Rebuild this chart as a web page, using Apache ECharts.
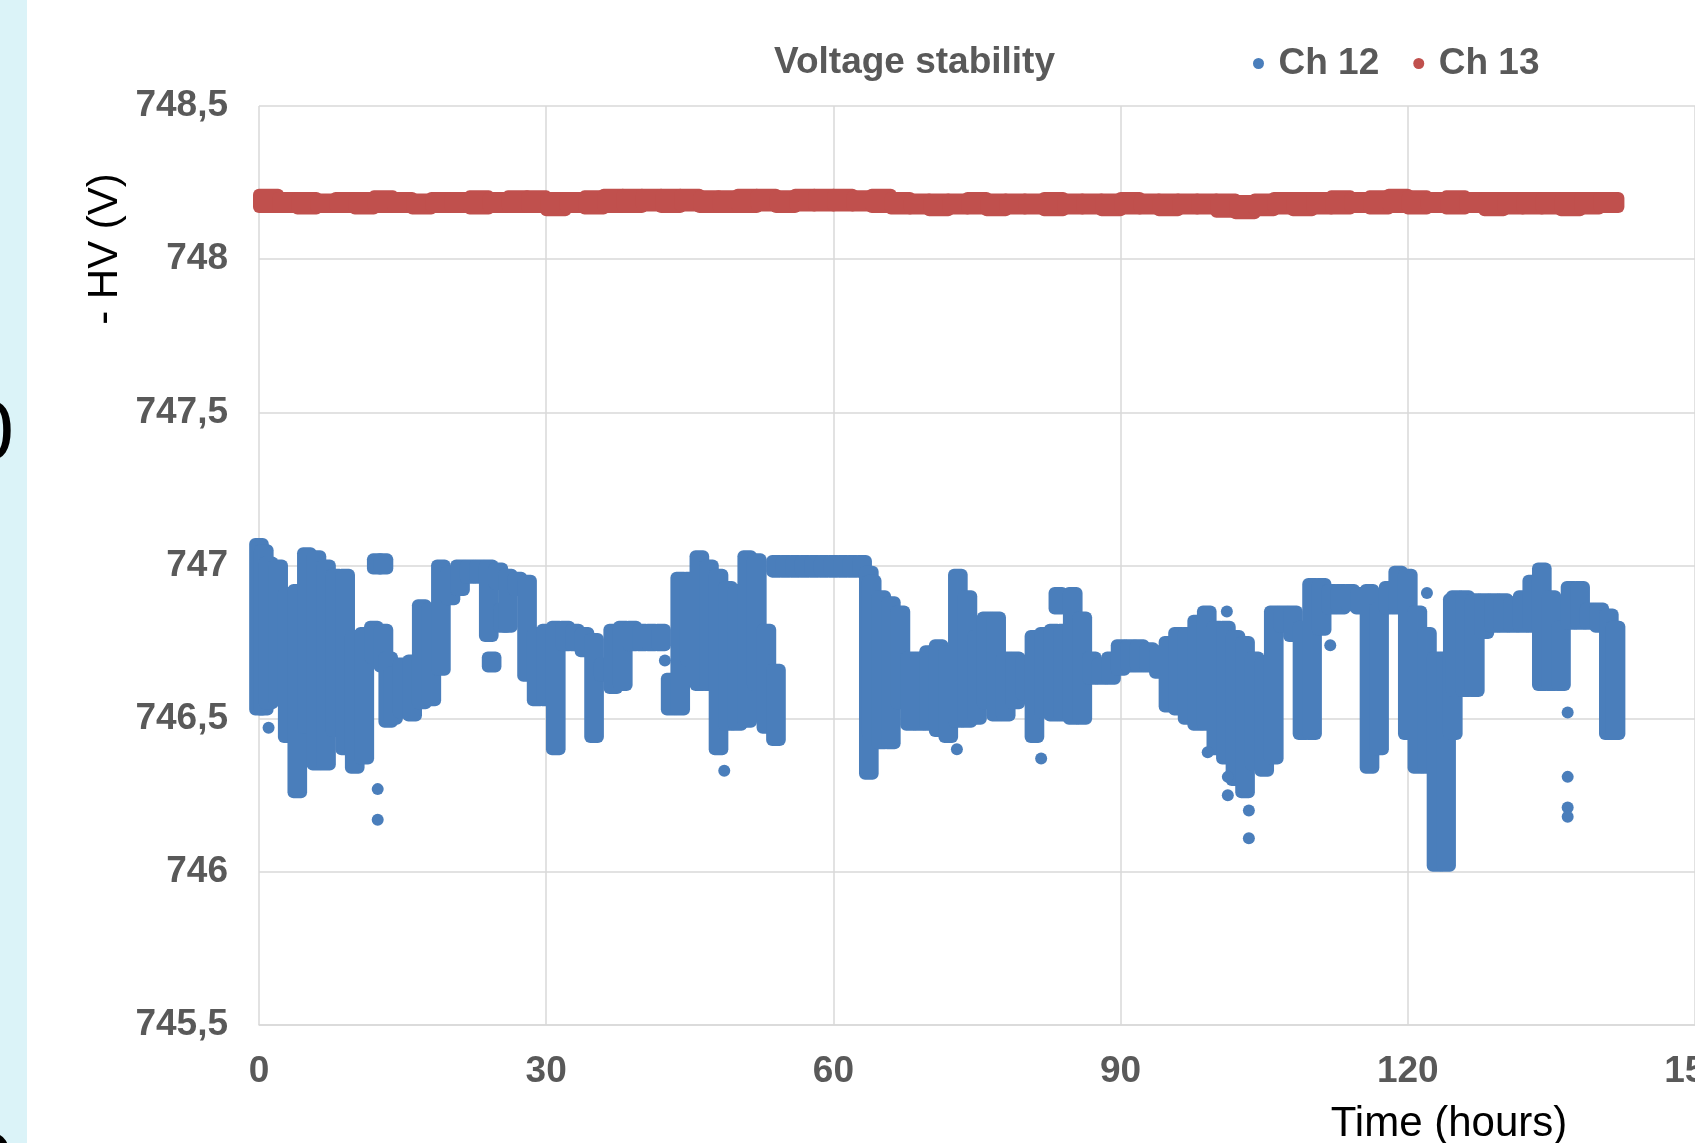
<!DOCTYPE html>
<html>
  <head>
    <meta charset="UTF-8" />
    <title>Voltage stability</title>
    <script src="https://cdn.jsdelivr.net/npm/echarts@6/dist/echarts.min.js"></script>
  </head>
  <body style="margin: 0; background-color: #ffffff">
    <div id="main" style="width: 1695px; height: 1143px"></div>
    <script type="text/javascript">
      // axis ticks
      var xTicks = [0, 30, 60, 90, 120, 150];
      var yTicks = [745.5, 746, 746.5, 747, 747.5, 748, 748.5];

      // Ch 12 : dense clouds read as [time, lowest, highest] per column
      var ch12Columns = [
        [0, 746.53, 747.07], [0.5, 746.53, 747.05], [1, 746.55, 747.01], [2, 746.56, 747.0],
        [3, 746.44, 746.91], [4, 746.26, 746.92], [5, 746.47, 747.04], [6, 746.35, 747.03],
        [7, 746.35, 747.0], [8, 746.46, 746.97], [9, 746.4, 746.97], [10, 746.34, 746.77],
        [11, 746.37, 746.78], [12, 746.7, 746.8], [12.3, 746.99, 747.02], [13, 746.99, 747.02],
        [13, 746.67, 746.79], [13.5, 746.49, 746.7], [14, 746.5, 746.65], [15, 746.52, 746.68],
        [16, 746.51, 746.69], [17, 746.55, 746.87], [18, 746.56, 746.86], [19, 746.66, 747.0],
        [20, 746.89, 746.98], [21, 746.92, 747.0], [22, 746.96, 747.0], [23, 746.96, 747.0],
        [24, 746.77, 747.0], [24.3, 746.67, 746.7], [25, 746.94, 746.99], [25.5, 746.8, 746.86],
        [26, 746.8, 746.97], [27, 746.92, 746.96], [28, 746.64, 746.95], [29, 746.56, 746.78],
        [30, 746.56, 746.79], [31, 746.4, 746.8], [32, 746.74, 746.8], [33, 746.74, 746.79],
        [34, 746.72, 746.78], [35, 746.44, 746.76], [36, 746.64, 746.68], [37, 746.6, 746.79],
        [38, 746.61, 746.8], [39, 746.74, 746.8], [40, 746.74, 746.79], [41, 746.74, 746.79],
        [42, 746.74, 746.79], [43, 746.53, 746.63], [44, 746.53, 746.96], [45, 746.69, 746.96],
        [46, 746.61, 747.03], [47, 746.61, 747.0], [48, 746.4, 746.97], [49, 746.48, 746.93],
        [50, 746.48, 746.92], [51, 746.49, 747.03], [52, 746.61, 747.02], [53, 746.47, 746.79],
        [54, 746.43, 746.66], [54, 746.98, 747.015], [55, 746.98, 747.015], [56, 746.98, 747.015],
        [57, 746.98, 747.015], [58, 746.98, 747.015], [59, 746.98, 747.015], [60, 746.98, 747.015],
        [61, 746.98, 747.015], [62, 746.98, 747.015], [63, 746.98, 747.015], [63.7, 746.32, 746.98],
        [64, 746.45, 746.95], [65, 746.42, 746.9], [66, 746.42, 746.88], [67, 746.55, 746.85],
        [68, 746.48, 746.7], [69, 746.48, 746.7], [70, 746.48, 746.72], [71, 746.46, 746.74],
        [72, 746.44, 746.72], [73, 746.49, 746.97], [74, 746.49, 746.9], [75, 746.5, 746.77],
        [76, 746.55, 746.83], [77, 746.51, 746.83], [78, 746.51, 746.7], [79, 746.55, 746.7],
        [80, 746.58, 746.69], [81, 746.44, 746.77], [82, 746.52, 746.78], [83, 746.51, 746.79],
        [83.5, 746.86, 746.91], [84, 746.51, 746.79], [85, 746.5, 746.91], [86, 746.5, 746.83],
        [87, 746.63, 746.7], [88, 746.63, 746.68], [89, 746.63, 746.7], [90, 746.66, 746.74],
        [91, 746.67, 746.74], [92, 746.67, 746.74], [93, 746.67, 746.73], [94, 746.65, 746.72],
        [95, 746.54, 746.75], [96, 746.53, 746.78], [97, 746.5, 746.78], [98, 746.48, 746.82],
        [99, 746.48, 746.85], [100, 746.4, 746.8], [101, 746.37, 746.8], [102, 746.3, 746.77],
        [103, 746.26, 746.75], [104, 746.35, 746.7], [105, 746.33, 746.68], [106, 746.37, 746.85],
        [107, 746.8, 746.85], [108, 746.77, 746.85], [109, 746.45, 746.8], [110, 746.45, 746.94],
        [111, 746.79, 746.94], [112, 746.86, 746.92], [113, 746.86, 746.92], [114, 746.87, 746.92],
        [115, 746.86, 746.91], [116, 746.34, 746.92], [117, 746.4, 746.86], [118, 746.86, 746.93],
        [119, 746.86, 746.98], [120, 746.45, 746.97], [121, 746.34, 746.85], [122, 746.34, 746.78],
        [123, 746.02, 746.7], [124, 746.02, 746.7], [124.7, 746.45, 746.89], [125, 746.59, 746.9],
        [126, 746.59, 746.9], [127, 746.59, 746.89], [128, 746.78, 746.89], [129, 746.8, 746.89],
        [130, 746.8, 746.89], [131, 746.8, 746.88], [132, 746.8, 746.9], [133, 746.8, 746.95],
        [134, 746.61, 746.99], [135, 746.61, 746.9], [136, 746.61, 746.8], [137, 746.81, 746.93],
        [138, 746.81, 746.93], [139, 746.81, 746.86], [140, 746.8, 746.86], [141, 746.45, 746.84],
        [141.7, 746.45, 746.8]
      ];

      // Ch 12 : isolated points
      var ch12Points = [
        [1, 746.47], [12.4, 746.27], [12.4, 746.17], [42.4, 746.69], [48.6, 746.33],
        [72.9, 746.4], [81.7, 746.37], [99.1, 746.39], [101.1, 746.85], [101.2, 746.31],
        [101.2, 746.25], [103.4, 746.2], [103.4, 746.11], [111.9, 746.74], [122, 746.91],
        [136.7, 746.52], [136.7, 746.31], [136.7, 746.21], [136.7, 746.18]
      ];

      // Ch 13 : band, every 2 hours
      var ch13Time = [];
      for (var h = 1; h <= 141; h += 2) ch13Time.push(h);
      var ch13Low = [
        748.17, 748.17, 748.165, 748.17, 748.17, 748.165, 748.17, 748.17, 748.165, 748.17,
        748.17, 748.165, 748.17, 748.17, 748.17, 748.16, 748.17, 748.165, 748.17, 748.17,
        748.175, 748.17, 748.175, 748.17, 748.17, 748.17, 748.175, 748.17, 748.175, 748.175,
        748.175, 748.175, 748.17, 748.165, 748.165, 748.16, 748.165, 748.165, 748.16, 748.165,
        748.165, 748.16, 748.165, 748.165, 748.16, 748.165, 748.165, 748.16, 748.165, 748.165,
        748.155, 748.15, 748.16, 748.165, 748.16, 748.165, 748.165, 748.17, 748.165, 748.17,
        748.165, 748.17, 748.165, 748.17, 748.16, 748.165, 748.165, 748.165, 748.16, 748.165,
        748.17
      ];
      var ch13High = [
        748.21, 748.2, 748.2, 748.195, 748.2, 748.2, 748.205, 748.2, 748.195, 748.2,
        748.2, 748.205, 748.2, 748.205, 748.205, 748.2, 748.2, 748.205, 748.21, 748.21,
        748.21, 748.21, 748.21, 748.205, 748.205, 748.21, 748.21, 748.205, 748.21, 748.21,
        748.21, 748.205, 748.21, 748.2, 748.195, 748.195, 748.195, 748.2, 748.195, 748.195,
        748.195, 748.2, 748.195, 748.195, 748.195, 748.2, 748.195, 748.195, 748.195, 748.195,
        748.195, 748.19, 748.195, 748.2, 748.2, 748.2, 748.205, 748.2, 748.205, 748.21,
        748.205, 748.2, 748.205, 748.2, 748.2, 748.2, 748.2, 748.2, 748.2, 748.2,
        748.2
      ];

      var blue = "#4a7ebb";
      var red = "#c0504d";
      var grey = "#595959";
      var fontFamily = "'Liberation Sans', Arial, sans-serif";

      var ch13Rows = ch13Time.map(function (t, i) {
        return [t, ch13Low[i], ch13High[i]];
      });

      // a column of dots drawn as one rounded bar (radius = marker radius)
      function columnRenderer(halfHours, color) {
        return function (params, api) {
          var r = 6;
          var a = api.coord([api.value(0) - halfHours, api.value(2)]);
          var b = api.coord([api.value(0) + halfHours, api.value(1)]);
          return {
            type: "rect",
            shape: {
              x: a[0] - r,
              y: a[1] - r,
              width: b[0] - a[0] + 2 * r,
              height: b[1] - a[1] + 2 * r,
              r: r,
            },
            style: { fill: color },
          };
        };
      }

      var myChart = echarts.init(document.getElementById("main"));
      var option = {
        animation: false,
        backgroundColor: "#ffffff",
        title: {
          text: "Voltage stability",
          left: 774,
          top: 44,
          padding: 0,
          textStyle: { fontFamily: fontFamily, fontSize: 37, fontWeight: "bold", color: grey },
        },
        legend: {
          left: 1253,
          top: 45,
          padding: 0,
          itemWidth: 30,
          itemHeight: 11,
          itemGap: 34,
          data: [
            { name: "Ch 12", icon: "circle", itemStyle: { color: blue } },
            { name: "Ch 13", icon: "circle", itemStyle: { color: red } },
          ],
          textStyle: { fontFamily: fontFamily, fontSize: 37, fontWeight: "bold", color: grey },
        },
        grid: {
          left: 259,
          right: 0,
          top: 106,
          bottom: 118,
          containLabel: false,
          outerBoundsMode: "none",
        },
        xAxis: {
          type: "value",
          min: xTicks[0],
          max: xTicks[xTicks.length - 1],
          interval: 30,
          axisLine: { show: true, lineStyle: { color: "#d9d9d9", width: 1.5 } },
          axisTick: { show: false },
          splitLine: { show: true, lineStyle: { color: "#d9d9d9", width: 1.5 } },
          axisLabel: {
            margin: 28,
            fontFamily: fontFamily,
            fontSize: 37,
            fontWeight: "bold",
            color: grey,
          },
        },
        yAxis: {
          type: "value",
          min: yTicks[0],
          max: yTicks[yTicks.length - 1],
          interval: 0.5,
          axisLine: { show: false },
          axisTick: { show: false },
          splitLine: { show: true, lineStyle: { color: "#d9d9d9", width: 1.5 } },
          axisLabel: {
            margin: 31,
            fontFamily: fontFamily,
            fontSize: 37,
            fontWeight: "bold",
            color: grey,
            formatter: function (v) {
              return String(v).replace(".", ",");
            },
          },
        },
        graphic: [
          { type: "rect", left: 0, top: 0, shape: { width: 27, height: 1143 }, style: { fill: "#dbf3f8" } },
          {
            type: "text",
            x: 14,
            y: 436,
            style: { text: "0", fontSize: 84, fontFamily: fontFamily, fill: "#000", align: "right", verticalAlign: "middle" },
          },
          {
            type: "text",
            x: 14,
            y: 1168,
            style: { text: "0", fontSize: 84, fontFamily: fontFamily, fill: "#000", align: "right", verticalAlign: "middle" },
          },
          {
            type: "text",
            x: 105,
            y: 249,
            rotation: Math.PI / 2,
            style: { text: "- HV (V)", fontSize: 42, fontFamily: fontFamily, fill: "#000", align: "center", verticalAlign: "middle" },
          },
          {
            type: "text",
            x: 1449,
            y: 1124,
            style: { text: "Time (hours)", fontSize: 42, fontFamily: fontFamily, fill: "#000", align: "center", verticalAlign: "middle" },
          },
        ],
        series: [
          {
            name: "Ch 12",
            type: "scatter",
            symbol: "circle",
            symbolSize: 12,
            itemStyle: { color: blue, opacity: 1 },
            data: ch12Points,
            z: 3,
          },
          {
            name: "Ch 12",
            type: "custom",
            renderItem: columnRenderer(0.4, blue),
            encode: { x: 0, y: [1, 2] },
            itemStyle: { color: blue },
            data: ch12Columns,
            z: 2,
          },
          {
            name: "Ch 13",
            type: "custom",
            renderItem: columnRenderer(1, red),
            encode: { x: 0, y: [1, 2] },
            itemStyle: { color: red },
            data: ch13Rows,
            z: 2,
          },
        ],
      };
      myChart.setOption(option);
    </script>
  </body>
</html>
